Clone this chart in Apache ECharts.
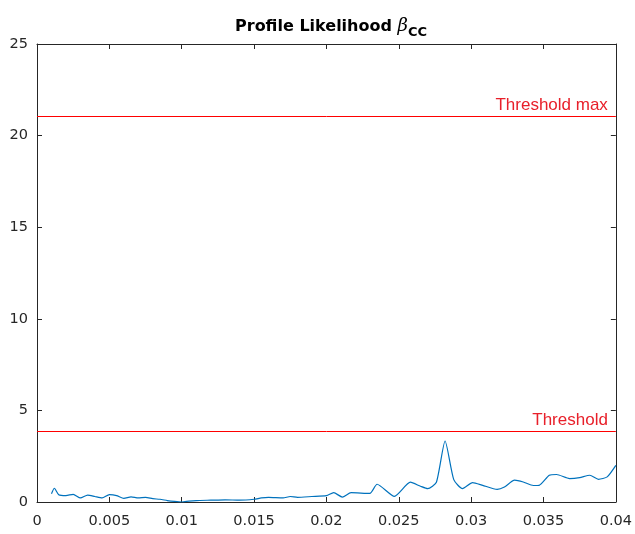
<!DOCTYPE html>
<html><head><meta charset="utf-8">
<script src="https://cdn.jsdelivr.net/npm/echarts@6/dist/echarts.min.js"></script>
<style>html,body{margin:0;padding:0;background:#fff}#c{width:635px;height:534px}</style>
</head><body><div id="c"></div>
<script>
const xVals = [0.001,0.0012,0.0015,0.002,0.0025,0.003,0.0035,0.004,0.0045,0.005,0.0055,0.006,0.0065,0.007,0.0075,0.008,0.0085,0.009,0.0095,0.01,0.0105,0.011,0.012,0.013,0.014,0.015,0.0155,0.016,0.017,0.0175,0.018,0.019,0.02,0.0205,0.0211,0.0217,0.023,0.0235,0.0247,0.0258,0.0265,0.027,0.0276,0.0282,0.0288,0.0294,0.0301,0.0308,0.0318,0.0323,0.033,0.0336,0.0343,0.0347,0.0354,0.0359,0.0368,0.0375,0.0382,0.0388,0.0394,0.04];
const yVals = [0.45,0.75,0.4,0.35,0.42,0.22,0.38,0.3,0.22,0.4,0.35,0.2,0.28,0.22,0.25,0.18,0.15,0.08,0.03,0.0,0.05,0.08,0.1,0.12,0.1,0.15,0.22,0.25,0.22,0.3,0.25,0.3,0.35,0.51,0.27,0.51,0.47,0.97,0.31,1.08,0.86,0.73,1.08,3.33,1.22,0.73,1.06,0.91,0.69,0.82,1.19,1.09,0.9,0.91,1.46,1.5,1.28,1.33,1.46,1.24,1.37,2.0];
const thresholdValues = [3.84, 21.03];
const thresholdNames = ['Threshold', 'Threshold max'];
const xTicks = {min: 0, max: 0.04, interval: 0.005};
const yTicks = {min: 0, max: 25, interval: 5};

const chart = echarts.init(document.getElementById('c'));
const axisCol = '#262626';
const font = '"Liberation Sans", Arial, sans-serif';
const tickFont = '"DejaVu Sans", sans-serif';
const baseAxis = {
  axisLine: {show: true, onZero: false, lineStyle: {color: axisCol, width: 1}},
  axisTick: {show: true, inside: true, length: 5, lineStyle: {color: axisCol}},
  splitLine: {show: false}
};
chart.setOption({
  animation: false,
  backgroundColor: '#fff',
  title: {
    text: '{t|Profile Likelihood }{b|β}{s|CC}',
    left: 326, top: 9, textAlign: 'center',
    textStyle: {
      rich: {
        t: {fontFamily: tickFont, fontWeight: 'bold', fontSize: 16, color: '#000'},
        b: {fontFamily: '"DejaVu Serif", serif', fontStyle: 'italic', fontWeight: 'normal', fontSize: 18, color: '#000'},
        s: {fontFamily: tickFont, fontWeight: 'bold', fontSize: 13, color: '#000', padding: [12, 0, 0, 0]}
      }
    }
  },
  grid: {left: 37, right: 19, top: 44, bottom: 32, containLabel: false},
  xAxis: [
    Object.assign({type: 'value', min: xTicks.min, max: xTicks.max, interval: xTicks.interval, position: 'bottom',
      axisLabel: {color: axisCol, fontSize: 14.5, fontFamily: tickFont, margin: 12}}, baseAxis),
    Object.assign({type: 'value', min: xTicks.min, max: xTicks.max, interval: xTicks.interval, position: 'top',
      axisLabel: {show: false}}, baseAxis)
  ],
  yAxis: [
    Object.assign({type: 'value', min: yTicks.min, max: yTicks.max, interval: yTicks.interval, position: 'left',
      axisLabel: {color: axisCol, fontSize: 14.5, fontFamily: tickFont, margin: 9}}, baseAxis),
    Object.assign({type: 'value', min: yTicks.min, max: yTicks.max, interval: yTicks.interval, position: 'right',
      axisLabel: {show: false}}, baseAxis)
  ],
  series: [{
    type: 'line',
    data: xVals.map((x, i) => [x, yVals[i]]),
    showSymbol: false,
    smooth: 0.2,
    lineStyle: {color: '#0072BD', width: 1.2},
    markLine: {
      silent: true,
      symbol: ['none', 'none'],
      lineStyle: {color: '#ff0000', width: 1, type: 'solid'},
      label: {position: 'insideEndTop', color: '#e8202a', fontSize: 17, fontFamily: font, distance: [8, 3]},
      data: thresholdValues.map((v, i) => ({yAxis: v, name: thresholdNames[i], label: {formatter: thresholdNames[i]}}))
    }
  }]
});
</script></body></html>
